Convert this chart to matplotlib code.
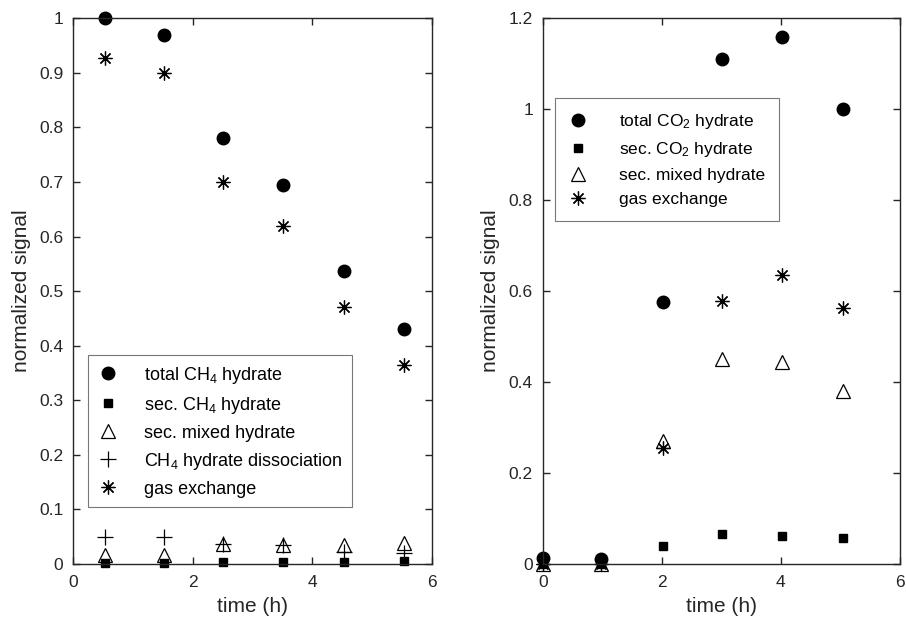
import matplotlib
matplotlib.use("Agg")
import matplotlib.pyplot as plt

plt.rcParams['font.family'] = ['Liberation Sans', 'DejaVu Sans']
plt.rcParams['mathtext.fontset'] = 'custom'
plt.rcParams['mathtext.rm'] = 'Liberation Sans'
plt.rcParams['mathtext.it'] = 'Liberation Sans'

# Left panel (CH4)
t_left = [0.53, 1.52, 2.51, 3.51, 4.54, 5.53]
ch4_total = [1.0, 0.97, 0.78, 0.695, 0.537, 0.43]
ch4_sec = [0.002, 0.002, 0.003, 0.004, 0.004, 0.005]
mixed_left = [0.016, 0.016, 0.036, 0.034, 0.035, 0.038]
ch4_diss = [0.05, 0.05, 0.036, 0.034, 0.022, 0.02]
gas_left = [0.928, 0.90, 0.70, 0.62, 0.47, 0.365]

# Right panel (CO2)
t_right = [0.0, 0.98, 2.02, 3.01, 4.03, 5.04]
co2_total = [0.012, 0.01, 0.575, 1.11, 1.158, 1.0]
co2_sec = [0.0, 0.0, 0.04, 0.065, 0.062, 0.057]
mixed_right = [0.0, 0.0, 0.27, 0.45, 0.445, 0.38]
gas_right = [0.0, 0.0, 0.255, 0.578, 0.635, 0.562]

dark = '#262626'
fig = plt.figure(figsize=(9.06, 6.28), dpi=100)
ax1 = fig.add_axes([0.0806, 0.102, 0.396, 0.869])
ax2 = fig.add_axes([0.599, 0.102, 0.394, 0.869])

star = (8, 2, 0)

def style(ax):
    for s in ax.spines.values():
        s.set_color(dark)
        s.set_linewidth(1.0)
    ax.tick_params(direction='in', top=True, right=True, colors=dark,
                   labelsize=12.5, length=5, width=1.0, labelcolor=dark)
    ax.tick_params(axis='x', pad=8)
    ax.tick_params(axis='y', pad=7)
    ax.set_xlabel('time (h)', fontsize=15, color=dark, labelpad=5)
    ax.set_ylabel('normalized signal', fontsize=15, color=dark, labelpad=6)

kw = dict(linestyle='none', color='black', clip_on=False)
ax1.plot(t_left, ch4_total, marker='o', markersize=9, label='total CH$_4$ hydrate', **kw)
ax1.plot(t_left, ch4_sec, marker='s', markersize=6, label='sec. CH$_4$ hydrate', **kw)
ax1.plot(t_left, mixed_left, marker='^', markersize=10, markerfacecolor='none',
         markeredgewidth=0.9, label='sec. mixed hydrate', **kw)
ax1.plot(t_left, ch4_diss, marker='+', markersize=11, markeredgewidth=0.9,
         label='CH$_4$ hydrate dissociation', **kw)
ax1.plot(t_left, gas_left, marker=star, markersize=10, markeredgewidth=0.9,
         label='gas exchange', **kw)
ax1.set_xlim(0, 6)
ax1.set_ylim(0, 1)
ax1.set_xticks([0, 2, 4, 6])
ax1.set_yticks([0, 0.1, 0.2, 0.3, 0.4, 0.5, 0.6, 0.7, 0.8, 0.9, 1])
ax1.set_yticklabels(['0', '0.1', '0.2', '0.3', '0.4', '0.5', '0.6', '0.7', '0.8', '0.9', '1'])
style(ax1)
leg1 = ax1.legend(loc='lower left', bbox_to_anchor=(0.042, 0.105), fontsize=13,
                  frameon=True, fancybox=False, edgecolor='#555555', borderaxespad=0,
                  handletextpad=1.4, borderpad=0.5, labelspacing=0.5, handlelength=1.2)
leg1.get_frame().set_linewidth(0.8)

ax2.plot(t_right, co2_total, marker='o', markersize=9, label='total CO$_2$ hydrate', **kw)
ax2.plot(t_right, co2_sec, marker='s', markersize=6, label='sec. CO$_2$ hydrate', **kw)
ax2.plot(t_right, mixed_right, marker='^', markersize=10, markerfacecolor='none',
         markeredgewidth=0.9, label='sec. mixed hydrate', **kw)
ax2.plot(t_right, gas_right, marker=star, markersize=10, markeredgewidth=0.9,
         label='gas exchange', **kw)
ax2.set_xlim(0, 6)
ax2.set_ylim(0, 1.2)
ax2.set_xticks([0, 2, 4, 6])
ax2.set_yticks([0, 0.2, 0.4, 0.6, 0.8, 1.0, 1.2])
ax2.set_yticklabels(['0', '0.2', '0.4', '0.6', '0.8', '1', '1.2'])
style(ax2)
leg2 = ax2.legend(loc='upper left', bbox_to_anchor=(0.034, 0.853), fontsize=12.5,
                  frameon=True, fancybox=False, edgecolor='#555555', borderaxespad=0,
                  handletextpad=1.8, borderpad=0.8, labelspacing=0.5, handlelength=1.1)
leg2.get_frame().set_linewidth(0.8)

fig.savefig('out.png', dpi=100)
